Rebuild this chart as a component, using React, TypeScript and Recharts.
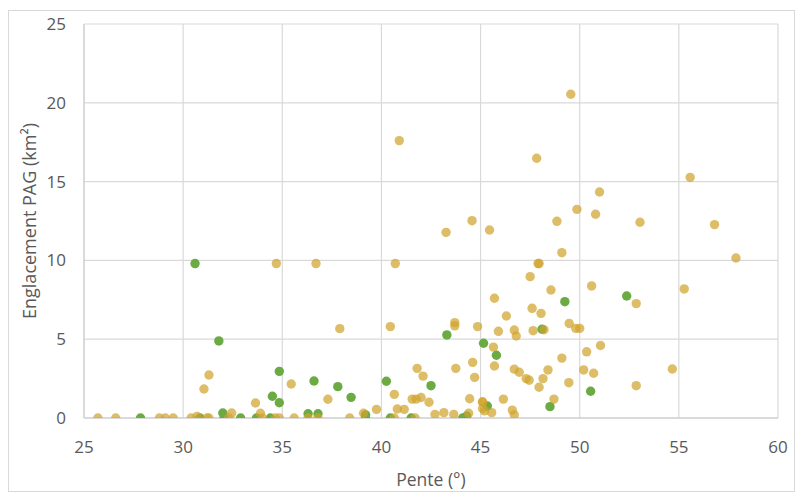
import React from 'react';
import { ScatterChart, Scatter, XAxis, YAxis, CartesianGrid } from 'recharts';

const xTicks = [25, 30, 35, 40, 45, 50, 55, 60];
const yTicks = [0, 5, 10, 15, 20, 25];

const goldSlope = [
  25.7, 26.6, 28.8, 29.1, 29.5, 30.4, 30.7, 31.2, 31.3, 31.05, 31.3, 32.3, 32.45, 33.65, 33.9, 34.0,
  34.65, 34.85, 34.7, 35.45, 35.6, 36.3, 36.8, 36.7, 37.3, 37.9, 38.4, 39.1, 39.75, 40.65, 40.65,
  40.8, 41.15, 41.7, 41.55, 41.75, 42.0, 41.8, 42.1, 42.4, 40.7, 40.45, 40.9, 42.7, 43.15, 43.65,
  43.26, 43.7, 43.7, 43.75, 44.4, 44.45, 44.6, 44.7, 44.57, 44.85, 45.1, 45.1, 45.1, 45.2, 45.56,
  45.45, 45.65, 45.7, 45.7, 45.9, 46.15, 46.3, 46.6, 46.7, 46.7, 46.95, 46.7, 46.8, 47.3, 47.45,
  47.5, 47.6, 47.65, 47.83, 47.9, 47.95, 47.95, 48.05, 48.15, 48.2, 48.4, 48.55, 48.7, 48.85, 49.1,
  49.1, 49.45, 49.47, 49.55, 49.8, 50.0, 49.86, 50.2, 50.35, 50.6, 50.7, 50.8, 51.0, 51.05, 52.85,
  52.85, 53.04, 54.67, 55.27, 55.57, 56.8, 57.88,
];
const goldArea = [
  0, 0, 0, 0, 0, 0, 0.1, 0, 0, 1.84, 2.73, 0, 0.32, 0.95, 0.3, 0,
  0, 0, 9.8, 2.16, 0, 0, 0, 9.8, 1.19, 5.67, 0, 0.3, 0.55, 1.5, 0,
  0.57, 0.55, 0, 1.2, 1.2, 1.3, 3.15, 2.66, 1.0, 9.8, 5.8, 17.6, 0.23, 0.34, 0.23,
  11.78, 6.05, 5.85, 3.15, 0.3, 1.22, 3.53, 2.58, 12.52, 5.8, 1.03, 1.0, 0.6, 0.45, 0.34,
  11.93, 4.5, 3.3, 7.6, 5.5, 1.2, 6.47, 0.5, 0.2, 3.1, 2.9, 5.58, 5.2, 2.5, 2.4,
  8.97, 6.96, 5.54, 16.48, 9.8, 9.8, 1.95, 6.64, 2.5, 5.6, 3.05, 8.12, 1.2, 12.48, 10.49,
  3.8, 2.24, 6.0, 20.54, 5.69, 5.69, 13.24, 3.05, 4.2, 8.38, 2.84, 12.93, 14.34, 4.6, 7.26,
  2.05, 12.42, 3.11, 8.19, 15.27, 12.27, 10.15,
];

const greenSlope = [
  27.85, 30.6, 30.85, 31.8, 32.0, 32.06, 32.9, 33.7, 34.5, 34.4, 34.85, 34.85, 36.3, 36.8, 36.6,
  37.8, 38.47, 39.2, 39.2, 40.25, 40.45, 41.5, 42.5, 43.3, 44.1, 44.3, 45.15, 45.34, 45.8, 48.1,
  48.5, 49.25, 50.55, 52.37,
];
const greenArea = [
  0, 9.8, 0, 4.89, 0.32, 0, 0, 0, 1.38, 0, 2.96, 0.97, 0.27, 0.27, 2.35,
  1.99, 1.31, 0.2, 0, 2.33, 0, 0, 2.05, 5.27, 0, 0.13, 4.74, 0.76, 3.98, 5.63,
  0.72, 7.38, 1.7, 7.74,
];

const goldData = goldSlope.map((x, i) => ({ x, y: goldArea[i] }));
const greenData = greenSlope.map((x, i) => ({ x, y: greenArea[i] }));

const FONT = "'Open Sans', sans-serif";
const TEXT = '#595959';

const GoldDot = (p: any) => (
  <circle cx={p.cx} cy={p.cy} r={4.7} fill="#D0A32C" fillOpacity={0.72} />
);
const GreenDot = (p: any) => (
  <circle cx={p.cx} cy={p.cy} r={4.7} fill="#6CAB44" />
);

export default function App() {
  return (
    <div
      style={{
        width: 787,
        height: 482,
        marginTop: 2,
        border: '1px solid #D9D9D9',
        boxSizing: 'border-box',
        fontFamily: FONT,
        background: '#fff',
      }}
    >
      <ScatterChart width={785} height={480} margin={{ top: 13, right: 16, bottom: 3, left: 10 }}>
        <CartesianGrid stroke="#D9D9D9" strokeWidth={1.2} />
        <XAxis
          type="number"
          dataKey="x"
          domain={[25, 60]}
          ticks={xTicks}
          allowDataOverflow
          height={70}
          tickSize={0}
          tickMargin={23}
          axisLine={{ stroke: '#C8C8C8', strokeWidth: 1.2 }}
          tickLine={false}
          tick={{ fill: TEXT, fontSize: 17, fontFamily: FONT }}
          label={{
            value: 'Pente (°)',
            position: 'insideBottom',
            offset: 2,
            style: { fill: TEXT, fontSize: 17.5, fontFamily: FONT },
          }}
        />
        <YAxis
          type="number"
          dataKey="y"
          domain={[0, 25]}
          ticks={yTicks}
          allowDataOverflow
          width={65}
          tickSize={0}
          tickMargin={18}
          axisLine={{ stroke: '#D0D0D0', strokeWidth: 1.2 }}
          tickLine={false}
          tick={{ fill: TEXT, fontSize: 17, fontFamily: FONT }}
          label={{
            value: 'Englacement PAG (km²)',
            angle: -90,
            position: 'insideLeft',
            offset: 11,
            style: { fill: TEXT, fontSize: 18, fontFamily: FONT, textAnchor: 'middle' },
          }}
        />
        <Scatter data={greenData} shape={GreenDot} isAnimationActive={false} />
        <Scatter data={goldData} shape={GoldDot} isAnimationActive={false} />
      </ScatterChart>
    </div>
  );
}
